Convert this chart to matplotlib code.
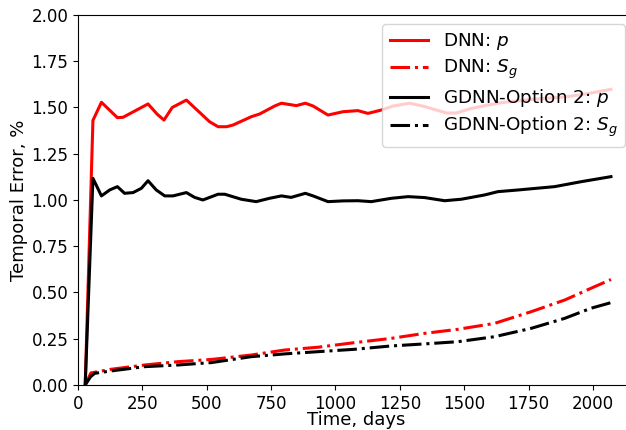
import matplotlib
matplotlib.use("Agg")
import matplotlib.pyplot as plt

# DNN: p
dnn_p_days = [28, 58, 91, 153, 175, 272, 308, 334, 366, 421, 511, 544, 577, 602, 673, 706,
              764, 790, 848, 883, 913, 971, 1029, 1087, 1126, 1178, 1224, 1288, 1346, 1432,
              1470, 1522, 1580, 1640, 1742, 1820, 1898, 1980, 2070]
dnn_p = [0.0, 1.43, 1.528, 1.445, 1.447, 1.519, 1.463, 1.432, 1.50, 1.54, 1.423, 1.396, 1.396,
         1.405, 1.45, 1.465, 1.508, 1.523, 1.51, 1.523, 1.508, 1.459, 1.477, 1.483, 1.468,
         1.486, 1.508, 1.523, 1.505, 1.47, 1.47, 1.493, 1.51, 1.525, 1.541, 1.55, 1.558,
         1.575, 1.598]

# GDNN-Option 2: p
gd_p_days = [28, 58, 91, 123, 153, 181, 214, 246, 272, 304, 337, 369, 421, 453, 485, 544, 570,
             634, 692, 744, 790, 828, 883, 913, 971, 1029, 1087, 1139, 1217, 1282, 1346, 1424,
             1489, 1579, 1631, 1709, 1851, 1955, 2070]
gd_p = [0.0, 1.117, 1.022, 1.054, 1.072, 1.036, 1.04, 1.063, 1.104, 1.054, 1.022, 1.022, 1.04,
        1.014, 1.0, 1.031, 1.031, 1.004, 0.991, 1.009, 1.022, 1.014, 1.036, 1.022, 0.991, 0.995,
        0.996, 0.991, 1.009, 1.018, 1.013, 0.996, 1.004, 1.027, 1.045, 1.054, 1.072, 1.099, 1.126]

# DNN: Sg
dnn_s_days = [28, 50, 129, 259, 388, 518, 673, 803, 932, 1075, 1217, 1346, 1476, 1618, 1760,
              1890, 1993, 2070]
dnn_s = [0.0, 0.065, 0.085, 0.108, 0.126, 0.138, 0.162, 0.189, 0.204, 0.229, 0.252, 0.279,
         0.301, 0.333, 0.396, 0.459, 0.523, 0.57]

# GDNN-Option 2: Sg
gd_s_days = [28, 49, 65, 129, 259, 388, 518, 673, 803, 932, 1075, 1217, 1346, 1476, 1618, 1760,
             1890, 1993, 2070]
gd_s = [0.0, 0.045, 0.063, 0.076, 0.099, 0.108, 0.121, 0.153, 0.168, 0.18, 0.193, 0.211, 0.222,
        0.234, 0.261, 0.306, 0.36, 0.415, 0.445]

fig = plt.figure(figsize=(6.26, 4.30), dpi=100)
# axes run past the right edge of the figure, as in the original crop
ax = fig.add_axes([0.1246, 0.1047, 0.89, 0.8605])

lw = 2.2
ax.plot(dnn_p_days, dnn_p, color="red", lw=lw, label="DNN: $p$")
ax.plot(dnn_s_days, dnn_s, color="red", lw=lw, ls="-.", label="DNN: $S_g$")
ax.plot(gd_p_days, gd_p, color="black", lw=lw, label="GDNN-Option 2: $p$")
ax.plot(gd_s_days, gd_s, color="black", lw=lw, ls="-.", label="GDNN-Option 2: $S_g$")

ax.set_xlim(0, 2164)
ax.set_ylim(0, 2.0)
ax.set_xticks([0, 250, 500, 750, 1000, 1250, 1500, 1750, 2000])
ax.set_yticks([0, 0.25, 0.5, 0.75, 1.0, 1.25, 1.5, 1.75, 2.0])
ax.set_yticklabels(["0.00", "0.25", "0.50", "0.75", "1.00", "1.25", "1.50", "1.75", "2.00"])
ax.tick_params(labelsize=12)
ax.set_xlabel("Time, days", fontsize=13, labelpad=-1)
ax.set_ylabel("Temporal Error, %", fontsize=13, labelpad=2)

ax.legend(loc="upper right", bbox_to_anchor=(0.9984, 0.944), bbox_transform=fig.transFigure,
          borderaxespad=0, fontsize=13.2, handlelength=2.1, labelspacing=0.32)

fig.savefig("out.png", dpi=100)
